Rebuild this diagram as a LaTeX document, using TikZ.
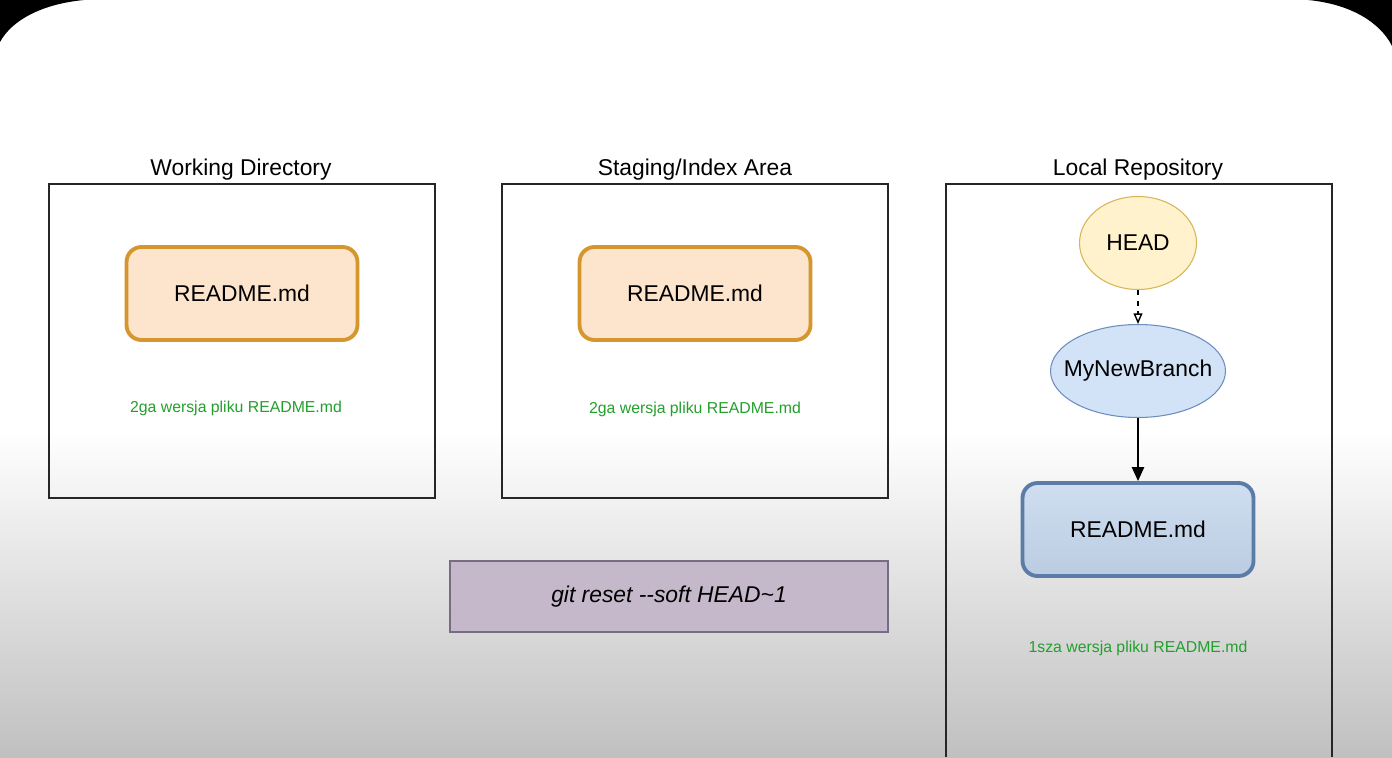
\documentclass[tikz,border=0pt]{standalone}
\usepackage{fontspec}
\setmainfont{Liberation Sans}
\usetikzlibrary{arrows.meta,shapes.geometric,positioning}

\definecolor{fileorange}{RGB}{252,229,204}
\definecolor{fileorangeline}{RGB}{214,150,46}
\definecolor{headfill}{RGB}{255,242,204}
\definecolor{headline}{RGB}{214,182,86}
\definecolor{branchfill}{RGB}{210,226,247}
\definecolor{branchline}{RGB}{108,142,191}
\definecolor{repotop}{RGB}{207,222,240}
\definecolor{repobottom}{RGB}{187,204,226}
\definecolor{repoline}{RGB}{92,124,168}
\definecolor{cmdfill}{RGB}{197,184,202}
\definecolor{cmdline}{RGB}{118,108,132}
\definecolor{notegreen}{RGB}{34,160,44}
\definecolor{screengray}{RGB}{192,192,192}

\begin{document}
\begin{tikzpicture}[x=0.02cm, y=-0.02cm,
        area/.style={draw=black!85, line width=1.1pt, minimum width=7.72cm, minimum height=6.28cm, inner sep=0pt},
        title/.style={anchor=base, font=\fontsize{13}{15}\selectfont},
        file/.style={rounded corners=0.3cm, line width=2.2pt, minimum width=4.62cm, minimum height=1.86cm, inner sep=0pt, font=\fontsize{13}{15}\selectfont},
        note/.style={anchor=base, text=notegreen, font=\fontsize{9}{11}\selectfont},
        bubble/.style={ellipse, line width=0.6pt, minimum height=1.86cm, inner sep=0pt, font=\fontsize{13}{15}\selectfont}]
        \useasboundingbox (0,0) rectangle (1392,757);
        % screen
        \fill[white] (0,0) rectangle (1392,430);
        \shade[top color=white, bottom color=screengray] (0,430) rectangle (1392,757);
        \fill[black] (0,0) -- (84,0) .. controls (42,4) and (12,20) .. (0,42) -- cycle;
        \fill[black] (1392,0) -- (1308,0) .. controls (1350,4) and (1380,22) .. (1392,46) -- cycle;

        % the three areas
        \node[area] (wd) at (242,341) {};
        \node[area] (index) at (695,341) {};
        \draw[draw=black!85, line width=1.1pt] (946,757) -- (946,184) -- (1332,184) -- (1332,757);
        \node[title] (wdtitle) at (241,175) {Working Directory};
        \node[title] (indextitle) at (695,175) {Staging/Index Area};
        \node[title] (repotitle) at (1138,175) {Local Repository};

        \node[file, draw=fileorangeline, fill=fileorange] (wdfile) at (242,293.5) {README.md};
        \node[file, draw=fileorangeline, fill=fileorange] (indexfile) at (695,293.5) {README.md};
        \node[note] (wdnote) at (236,412) {2ga wersja pliku README.md};
        \node[note] (indexnote) at (695,413) {2ga wersja pliku README.md};

        \node[bubble, draw=headline, fill=headfill, minimum width=2.34cm] (head) at (1138,243) {HEAD};
        \node[bubble, draw=branchline, fill=branchfill, minimum width=3.5cm, inner xsep=-0.25cm] (branch) at (1138,371) {MyNewBranch};
        \node[file, draw=repoline, top color=repotop, bottom color=repobottom] (repofile) at (1138,529.5) {README.md};
        \node[note] (reponote) at (1138,652) {1sza wersja pliku README.md};

        \draw[dashed, line width=0.8pt, -{Triangle[open, length=6pt, width=5pt]}] (head) -- (branch);
        \draw[line width=1pt, -{Triangle[length=8pt, width=7pt]}] (branch) -- (repofile);

        \node[draw=cmdline, fill=cmdfill, line width=0.7pt, minimum width=8.76cm, minimum height=1.42cm, inner sep=0pt,
            font=\fontsize{13}{15}\selectfont\itshape] (cmd) at (669,596.5) {git reset -{}-soft HEAD\char`\~1};
    \end{tikzpicture}
\end{document}
